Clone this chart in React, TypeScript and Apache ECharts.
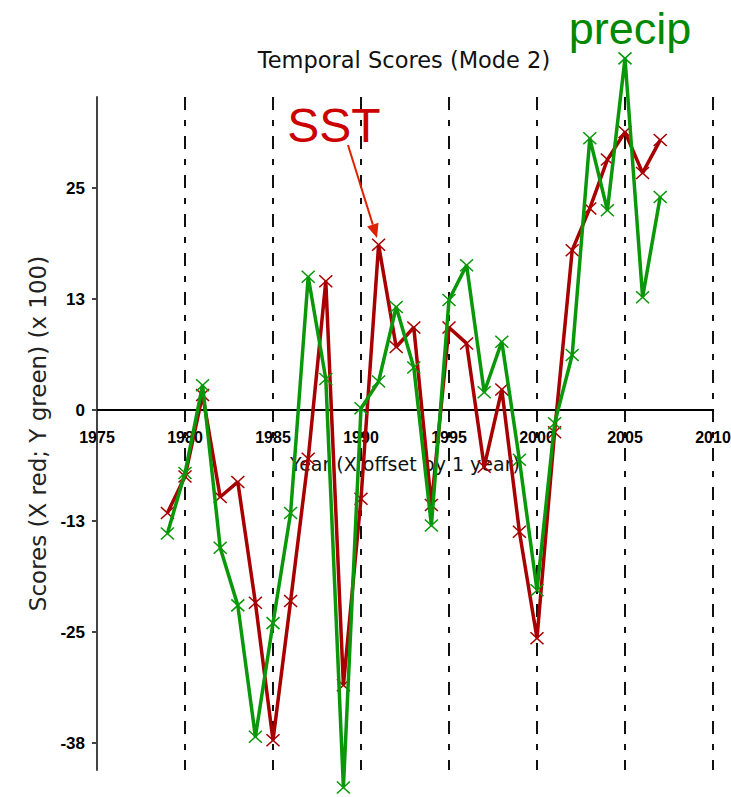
import React, { useEffect, useRef } from "react";
import * as echarts from "echarts";

const years = [
  1979, 1980, 1981, 1982, 1983, 1984, 1985, 1986, 1987, 1988, 1989, 1990, 1991, 1992, 1993,
  1994, 1995, 1996, 1997, 1998, 1999, 2000, 2001, 2002, 2003, 2004, 2005, 2006, 2007,
];
const sstScores = [
  -11.6, -7.5, 1.7, -9.8, -8.1, -21.7, -37.2, -21.5, -5.5, 14.5, -31, -10, 18.6, 7.1, 9.3,
  -10.7, 9.3, 7.5, -6.4, 2.3, -13.7, -25.7, -2.5, 18.0, 22.7, 28.2, 31.3, 26.7, 30.4,
];
const precipScores = [
  -13.9, -7.1, 2.8, -15.5, -22.0, -36.8, -24.0, -11.6, 15.0, 3.5, -42.5, 0.2, 3.2, 11.6, 4.8,
  -13.0, 12.4, 16.3, 2.0, 7.7, -5.6, -20.3, -1.5, 6.2, 30.6, 22.5, 39.6, 12.7, 24.0,
];
const yTickValues = [-37.5, -25, -12.5, 0, 12.5, 25];
const yTickLabels = ["-38", "-25", "-13", "0", "13", "25"];

const RED = "#a80000";
const GREEN = "#0a980a";
const xMark = "path://M0,0L10,10M10,0L0,10";

export default function App() {
  const ref = useRef<HTMLDivElement>(null);
  useEffect(() => {
    if (!ref.current) return;
    const chart = echarts.init(ref.current, undefined, { renderer: "svg" });
    const labelFor = (v: number) => {
      const i = yTickValues.indexOf(v);
      return i >= 0 ? yTickLabels[i] : "";
    };
    chart.setOption({
      animation: false,
      backgroundColor: "#ffffff",
      grid: [
        { left: 97, top: 97, width: 616, height: 673, outerBoundsMode: "none", containLabel: false },
        { left: 97, top: 97, width: 616, height: 313, outerBoundsMode: "none", containLabel: false },
      ],
      xAxis: [
        {
          type: "value",
          gridIndex: 0,
          min: 1975,
          max: 2010,
          interval: 5,
          axisLine: { show: false },
          axisTick: { show: false },
          axisLabel: { show: false },
          splitLine: {
            show: true,
            lineStyle: { color: "#111", width: 2, type: [13, 10, 6, 10] },
          },
        },
        {
          type: "value",
          gridIndex: 1,
          position: "bottom",
          min: 1975,
          max: 2010,
          interval: 5,
          name: "Year (X offset by 1 year)",
          nameLocation: "middle",
          nameGap: 44,
          nameTextStyle: { fontFamily: "DejaVu Sans", fontSize: 19, color: "#111" },
          axisLine: { show: true, onZero: false, lineStyle: { color: "#000", width: 2 } },
          axisTick: { show: false },
          axisLabel: {
            margin: 19,
            fontFamily: "Liberation Sans Narrow, Liberation Sans",
            fontWeight: "bold",
            fontSize: 16,
            color: "#000",
            formatter: (v: number) => String(v),
          },
          splitLine: { show: false },
        },
      ],
      yAxis: [
        {
          type: "value",
          gridIndex: 0,
          min: -40.54,
          max: 35.25,
          name: "Scores (X red; Y green) (x 100)",
          nameLocation: "middle",
          nameGap: 46,
          nameRotate: 90,
          nameTextStyle: { fontFamily: "DejaVu Sans", fontSize: 23, color: "#222" },
          axisLine: { show: true, onZero: false, lineStyle: { color: "#444", width: 2 } },
          axisTick: {
            show: true,
            length: 5,
            customValues: yTickValues,
            lineStyle: { color: "#444", width: 2 },
          },
          axisLabel: {
            margin: 12,
            customValues: yTickValues,
            fontFamily: "Liberation Sans Narrow, Liberation Sans",
            fontWeight: "bold",
            fontSize: 17,
            color: "#000",
            formatter: (v: number) => labelFor(v),
          },
          splitLine: { show: false },
        },
        {
          type: "value",
          gridIndex: 1,
          min: 0,
          max: 1,
          show: false,
        },
      ],
      series: [
        {
          name: "SST",
          type: "line",
          xAxisIndex: 0,
          yAxisIndex: 0,
          clip: false,
          data: years.map((y, i) => [y, sstScores[i]]),
          lineStyle: { color: RED, width: 3.5 },
          symbol: xMark,
          symbolSize: [13, 12],
          itemStyle: { color: RED, borderColor: RED, borderWidth: 1.5 },
          z: 3,
        },
        {
          name: "precip",
          type: "line",
          xAxisIndex: 0,
          yAxisIndex: 0,
          clip: false,
          data: years.map((y, i) => [y, precipScores[i]]),
          lineStyle: { color: GREEN, width: 3.5 },
          symbol: xMark,
          symbolSize: [13, 12],
          itemStyle: { color: GREEN, borderColor: GREEN, borderWidth: 1.5 },
          z: 4,
        },
      ],
      graphic: [
        {
          type: "text",
          x: 404,
          y: 60,
          style: {
            text: "Temporal Scores (Mode 2)",
            fontFamily: "DejaVu Sans",
            fontSize: 22.5,
            fill: "#111",
            textAlign: "center",
            textVerticalAlign: "middle",
          },
        },
        {
          type: "text",
          x: 334,
          y: 125,
          z: 10,
          style: {
            text: "SST",
            fontFamily: "Liberation Sans, Arial",
            fontSize: 48,
            fill: "#cc0000",
            textAlign: "center",
            textVerticalAlign: "middle",
          },
        },
        {
          type: "text",
          x: 630,
          y: 28,
          z: 10,
          style: {
            text: "precip",
            fontFamily: "Liberation Sans, Arial",
            fontSize: 45,
            fill: "#008800",
            textAlign: "center",
            textVerticalAlign: "middle",
          },
        },
        {
          type: "line",
          z: 10,
          shape: { x1: 348, y1: 145, x2: 372.8, y2: 224.6 },
          style: { stroke: "#dd2200", lineWidth: 2 },
        },
        {
          type: "polygon",
          z: 10,
          shape: { points: [[377, 238], [367.1, 226.4], [378.5, 222.8]] },
          style: { fill: "#dd2200" },
        },
      ],
    });
    return () => chart.dispose();
  }, []);
  return (
    <div
      ref={ref}
      style={{ position: "fixed", left: 0, top: 0, width: 731, height: 797, background: "#fff" }}
    />
  );
}
